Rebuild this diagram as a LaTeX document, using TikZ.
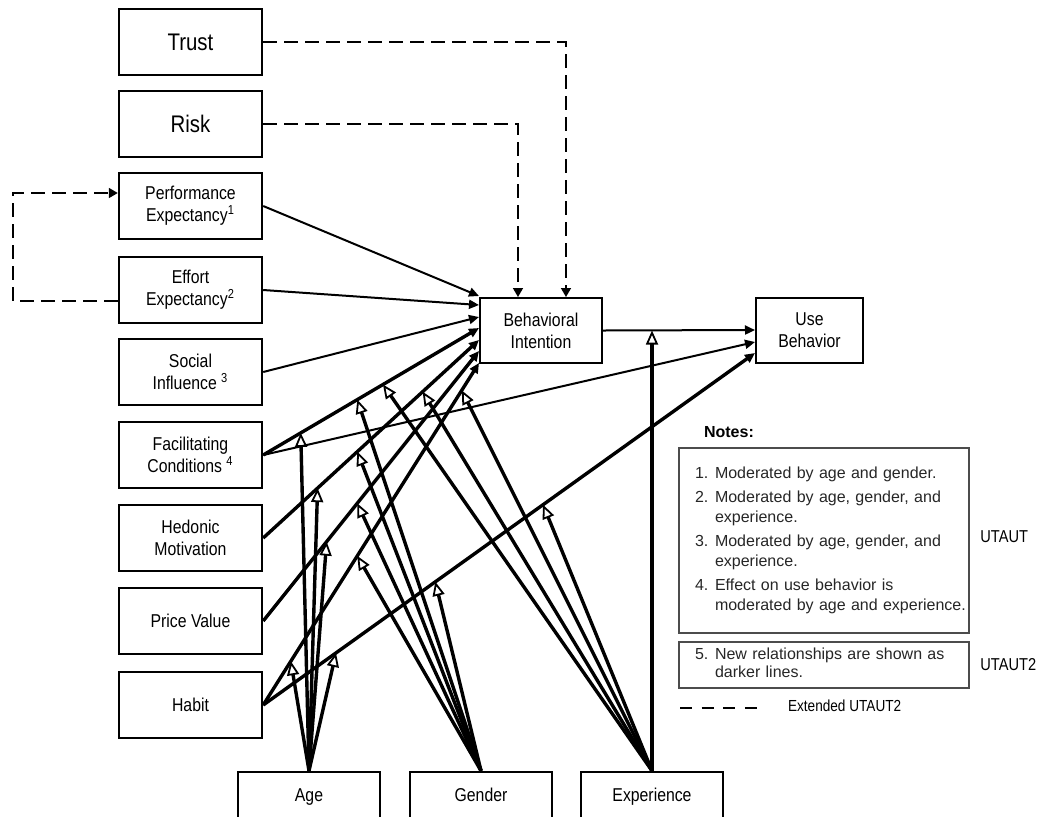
\documentclass[tikz,border=0pt]{standalone}
\usepackage{fontspec}
\setmainfont{Liberation Sans}
\newfontfamily\narrowfont[FakeStretch=0.85]{Liberation Sans}
\usetikzlibrary{arrows.meta,calc}

\tikzset{
  factor/.style={draw, line width=1.2pt, minimum width=71.5pt, minimum height=33pt,
    inner sep=0pt, align=center, font=\narrowfont\fontsize{9.3}{11}\selectfont},
  bigfactor/.style={factor, font=\narrowfont\fontsize{12}{14}\selectfont},
  outcome/.style={draw, line width=1pt, minimum height=32.5pt, inner sep=0pt,
    align=center, font=\narrowfont\fontsize{9.3}{11}\selectfont},
  moderator/.style={draw, line width=1.2pt, minimum width=71pt, minimum height=25pt,
    inner sep=0pt, text height=6.8pt, text depth=2pt, font=\narrowfont\fontsize{9.3}{11}\selectfont},
  notebox/.style={draw=black!70, line width=1pt, text width=136pt, inner xsep=4.5pt,
    inner ysep=0pt, align=left, text=black!85, anchor=north west},
  sidelabel/.style={anchor=west, inner sep=0pt, font=\narrowfont\fontsize{8.6}{10}\selectfont},
  thinpath/.style={line width=1pt, -{Triangle[length=5pt,width=4.5pt]}},
  newpath/.style={line width=1.7pt, -{Triangle[length=5pt,width=4.5pt]}},
  modarrow/.style={line width=1.7pt, -{Triangle[open,length=7pt,width=6pt,line width=0.9pt]}},
  extpath/.style={line width=0.8pt, dash pattern=on 7pt off 3.5pt,
    -{Triangle[length=4.5pt,width=5pt]}}
}

\begin{document}
\begin{tikzpicture}[x=0.5pt,y=-0.5pt]
  \useasboundingbox (0,0) rectangle (1041,816);

  \node[bigfactor] (trust) at (190.5,42) {Trust};
  \node[bigfactor] (risk) at (190.5,124) {Risk};
  \node[factor] (pe) at (190.5,206) {Performance\\Expectancy\textsuperscript{1}};
  \node[factor] (ee) at (190.5,290) {Effort\\Expectancy\textsuperscript{2}};
  \node[factor] (si) at (190.5,372) {Social\\Influence \textsuperscript{3}};
  \node[factor] (fc) at (190.5,455) {Facilitating\\Conditions \textsuperscript{4}};
  \node[factor] (hm) at (190.5,538) {Hedonic\\Motivation};
  \node[factor] (pv) at (190.5,621) {Price Value};
  \node[factor] (habit) at (190.5,705) {Habit};

  \node[outcome, minimum width=61pt] (bi) at (541,330.5) {Behavioral\\Intention};
  \node[outcome, minimum width=53.5pt] (ub) at (809.5,330) {Use\\Behavior};

  \node[moderator] (age) at (309,797) {Age};
  \node[moderator] (gender) at (481,797) {Gender};
  \node[moderator] (exp) at (652,797) {Experience};

  \coordinate (tPE) at ($(bi.north west)+(0,-1)$);
  \coordinate (tEE) at ($(bi.north west)+(0,8)$);
  \coordinate (tSI) at ($(bi.north west)+(0,20)$);
  \coordinate (tFC) at ($(bi.north west)+(0,31)$);
  \coordinate (tHM) at ($(bi.north west)+(0,43)$);
  \coordinate (tPV) at ($(bi.north west)+(0,54)$);
  \coordinate (tHB) at ($(bi.north west)+(0,66)$);
  \coordinate (uFC) at ($(ub.west)+(0,12)$);
  \coordinate (uHB) at ($(ub.west)+(0,23)$);

  \draw[thinpath] (pe.east) -- (tPE);
  \draw[thinpath] (ee.east) -- (tEE);
  \draw[thinpath] (si.east) -- (tSI);
  \draw[newpath] (fc.east) -- coordinate[pos=0.174] (fcAge) coordinate[pos=0.436] (fcGen)
    coordinate[pos=0.555] (fcExp) (tFC);
  \draw[thinpath] (fc.east) -- (uFC);
  \draw[newpath] (hm.east) -- coordinate[pos=0.252] (hmAge) coordinate[pos=0.436] (hmGen)
    coordinate[pos=0.739] (hmExp) (tHM);
  \draw[newpath] (pv.east) -- coordinate[pos=0.294] (pvAge) coordinate[pos=0.436] (pvGen) (tPV);
  \draw[newpath] (habit.east) -- coordinate[pos=0.128] (hbAge) coordinate[pos=0.436] (hbGen)
    coordinate[pos=0.92] (hbExp) (tHB);
  \draw[newpath] (habit.east) -- coordinate[pos=0.148] (huAge) coordinate[pos=0.35] (huGen)
    coordinate[pos=0.569] (huExp) (uHB);
  \draw[thinpath] (bi.east) -- (ub.west);

  \foreach \t in {fcAge,hmAge,pvAge,hbAge,huAge}
    {\draw[modarrow] (age.north) -- (\t);}
  \foreach \t in {fcGen,hmGen,pvGen,hbGen,huGen}
    {\draw[modarrow] (gender.north) -- (\t);}
  \foreach \t in {fcExp,hmExp,hbExp,huExp}
    {\draw[modarrow] (exp.north) -- (\t);}
  \draw[modarrow] (exp.north) -- (exp.north |- bi.east);

  \draw[extpath] (trust.east) -| ($(bi.north)+(25,0)$);
  \draw[extpath] (risk.east) -| ($(bi.north)+(-23,0)$);
  \coordinate (loop) at (13,250);
  \draw[extpath] ($(ee.west)+(0,11)$) -| (loop) |- ($(pe.west)+(0,-13)$);

  \node[anchor=base west, font=\bfseries\fontsize{8}{10}\selectfont] (notes) at (697,437) {Notes:};
  \node[notebox, minimum height=92.5pt, font=\fontsize{8}{10}\selectfont] (utaut) at (678,447)
    {\hspace*{3.5pt}\begin{tabular}{@{}p{10pt}@{}l@{}}
      1. & Moderated by age and gender.\\[2pt]
      2. & Moderated by age, gender, and\\
         & experience.\\[2pt]
      3. & Moderated by age, gender, and\\
         & experience.\\[2pt]
      4. & Effect on use behavior is\\
         & moderated by age and experience.
     \end{tabular}};
  \node[notebox, minimum height=23pt, font=\fontsize{8}{9}\selectfont] (utaut2) at (678,641)
    {\hspace*{3.5pt}\begin{tabular}{@{}p{10pt}@{}l@{}}
      5. & New relationships are shown as\\
         & darker lines.
     \end{tabular}};
  \node[sidelabel] at (980,537) {UTAUT};
  \node[sidelabel] at (980,665) {UTAUT2};

  \coordinate (legA) at (680,708);
  \coordinate (legB) at (757,708);
  \draw[line width=0.8pt, dash pattern=on 6pt off 4.8pt] (legA) -- (legB);
  \node[anchor=west, font=\narrowfont\fontsize{8}{10}\selectfont] at (781,706) {Extended UTAUT2};
\end{tikzpicture}
\end{document}
